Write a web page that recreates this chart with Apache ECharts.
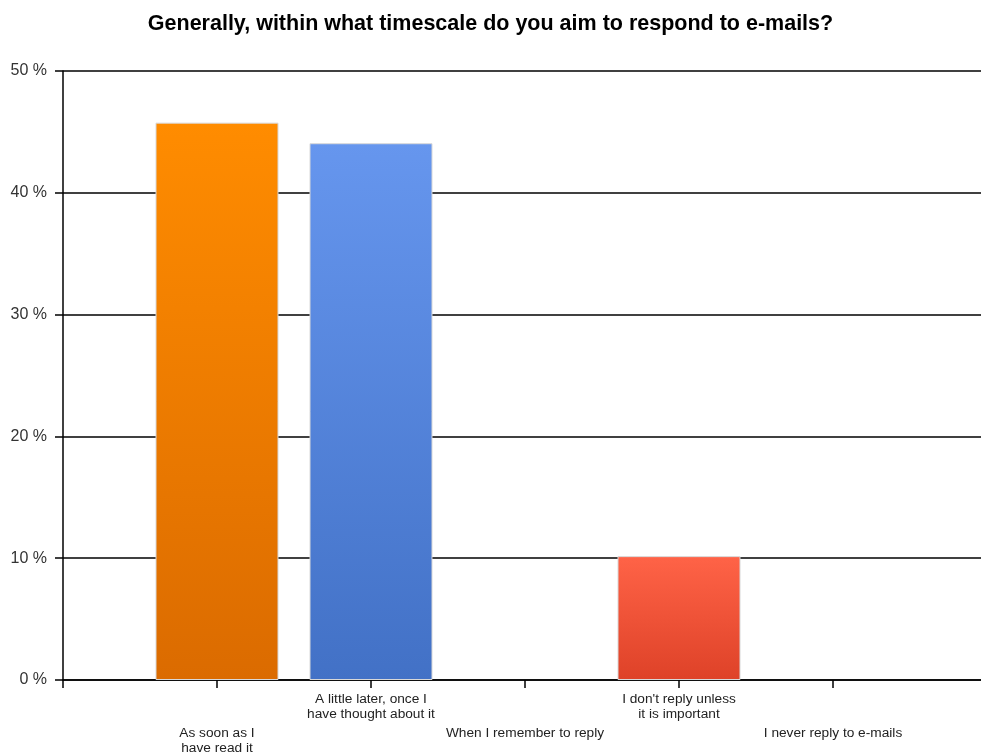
<!DOCTYPE html>
<html>
<head>
<meta charset="utf-8">
<script src="https://cdn.jsdelivr.net/npm/echarts@6/dist/echarts.min.js"></script>
<style>
  html, body { margin: 0; padding: 0; background: #fff; }
  #chart { width: 981px; height: 753px; }
</style>
</head>
<body>
<div id="chart"></div>
<script>
// Survey answers, in axis order
const categories = [
  'As soon as I\nhave read it',
  'A little later, once I\nhave thought about it',
  'When I remember to reply',
  'I don\'t reply unless\nit is important',
  'I never reply to e-mails'
];
// Share of respondents (%)
const values = [45.76, 44.07, 0, 10.17, 0];
// Top / bottom colours of each bar's gradient
const topColors = ['#FF8C00', '#6696EE', '#6696EE', '#FF6347', '#FF6347'];
const bottomColors = ['#DB6B00', '#4271C6', '#4271C6', '#DE4228', '#DE4228'];

const yTicks = [0, 10, 20, 30, 40, 50];

const labelFont = '"Liberation Sans", Arial, sans-serif';

const chart = echarts.init(document.getElementById('chart'), null, { renderer: 'canvas' });

const barData = values.map((v, i) => ({
  value: [i + 1, v],
  itemStyle: {
    color: new echarts.graphic.LinearGradient(0, 0, 0, 1, [
      { offset: 0, color: topColors[i] },
      { offset: 1, color: bottomColors[i] }
    ]),
    borderColor: v > 0 ? '#d8d8d8' : 'transparent',
    borderWidth: v > 0 ? 1 : 0
  }
}));

const tickPositions = [0].concat(categories.map((c, i) => i + 1));

function catLabel(v, wantOdd) {
  const idx = Math.round(v);
  if (idx < 1 || idx > categories.length) return '';
  const odd = idx % 2 === 1;
  return odd === wantOdd ? categories[idx - 1] : '';
}

const xBase = {
  type: 'value',
  min: 0,
  max: 6,
  interval: 1,
  position: 'bottom',
  splitLine: { show: false }
};

const labelBase = {
  interval: 0,
  customValues: tickPositions,
  hideOverlap: false,
  fontFamily: labelFont,
  fontSize: 13.7,
  lineHeight: 15,
  color: '#222'
};

chart.setOption({
  animation: false,
  backgroundColor: '#ffffff',
  title: {
    text: 'Generally, within what timescale do you aim to respond to e-mails?',
    left: 'center',
    top: 8,
    textStyle: {
      fontFamily: '"Liberation Sans", Arial, sans-serif',
      fontSize: 21.5,
      fontWeight: 'bold',
      color: '#000'
    }
  },
  grid: { left: 63, right: -6, top: 71, bottom: 73, outerBoundsMode: 'none', containLabel: false },
  xAxis: [
    Object.assign({}, xBase, {
      axisLine: { show: true, lineStyle: { color: '#000', width: 1.5 } },
      axisTick: { show: true, length: 8, customValues: tickPositions, lineStyle: { color: '#000', width: 1.5 } },
      axisLabel: Object.assign({}, labelBase, {
        margin: 12,
        formatter: v => catLabel(v, false)
      })
    }),
    Object.assign({}, xBase, {
      axisLine: { show: false },
      axisTick: { show: false },
      axisLabel: Object.assign({}, labelBase, {
        margin: 46,
        formatter: v => catLabel(v, true)
      })
    })
  ],
  yAxis: {
    type: 'value',
    min: yTicks[0],
    max: yTicks[yTicks.length - 1],
    interval: 10,
    axisLine: { show: true, lineStyle: { color: '#000', width: 1.5 } },
    axisTick: { show: true, length: 8, lineStyle: { color: '#000', width: 1.5 } },
    splitLine: { show: true, lineStyle: { color: '#000', width: 1.5 } },
    axisLabel: {
      margin: 16,
      fontFamily: '"Liberation Sans", Arial, sans-serif',
      fontSize: 16,
      color: '#333',
      padding: [2, 0, 0, 0],
      formatter: '{value} %'
    }
  },
  series: [{
    type: 'bar',
    xAxisIndex: 0,
    barWidth: 123,
    data: barData
  }]
});
</script>
</body>
</html>
